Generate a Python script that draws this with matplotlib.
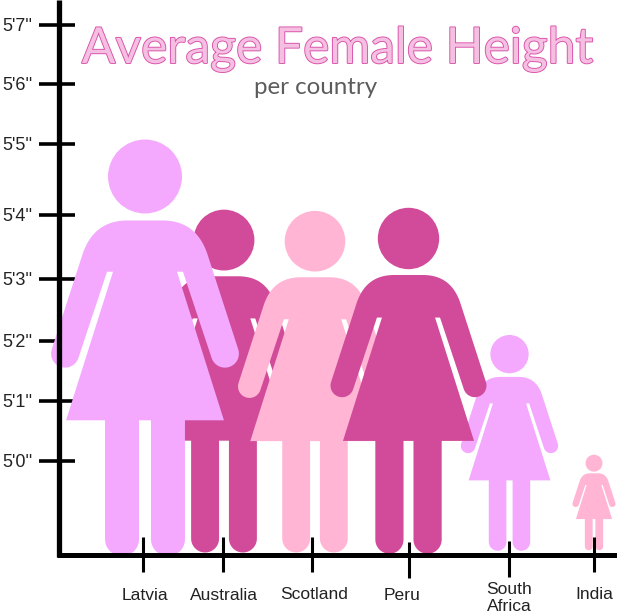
import numpy as np
import matplotlib
matplotlib.use('Agg')
import matplotlib.pyplot as plt
import matplotlib.patheffects as pe
from matplotlib.patches import Polygon, Ellipse

countries = ['Latvia', 'Australia', 'Scotland', 'Peru', 'South\nAfrica', 'India']
# top of head and bottom of feet, in inches on the y scale
top_in = [65.18, 64.05, 64.03, 64.08, 62.03, 60.10]
foot_in = [58.46, 58.52, 58.52, 58.50, 58.55, 58.56]
center_x = [145, 224, 315, 408.5, 509.5, 594]
tick_x = [143, 223, 312, 409, 509, 594]
colors = ['#f4a8fe', '#d14b9a', '#ffb5d3', '#d14b9a', '#f4a8fe', '#ffb5d3']
draw_order = [1, 2, 0, 4, 3, 5]

y_labels = ['5\'0\'\'', '5\'1\'\'', '5\'2\'\'', '5\'3\'\'', '5\'4\'\'', '5\'5\'\'', '5\'6\'\'', '5\'7\'\'']
y_ticks = [60, 60.97, 61.94, 62.94, 63.97, 65.11, 66.08, 67.03]

PX_PER_IN = 62


def to_in(px):
    return 60 + (461 - px) / PX_PER_IN


def arc(cx, cy, r, a0, a1, n=24):
    a = np.radians(np.linspace(a0, a1, n))
    return np.column_stack([cx + r * np.cos(a), cy + r * np.sin(a)])


def bezier(p0, p1, p2, p3, n=24):
    t = np.linspace(0, 1, n)[:, None]
    p0, p1, p2, p3 = map(np.array, (p0, p1, p2, p3))
    return (1-t)**3*p0 + 3*(1-t)**2*t*p1 + 3*(1-t)*t**2*p2 + t**3*p3


# right half of the body, measured on a figure 417 tall, y down from head top
def body_outline():
    right = np.vstack([
        [[0, 80.7]],
        bezier((17, 80.7), (36, 80.7), (53, 88), (62, 113)),
        arc(80, 214, 14, -18.2, 161.8),
        [[38, 132], [32, 132], [79, 280.7], [40, 280.7]],
        arc(23, 399.7, 17, 0, 180),
        [[6, 280.7], [0, 280.7]],
    ])
    left = right[::-1] * np.array([-1, 1])
    return np.vstack([right, left])


BODY = body_outline()

fig = plt.figure(figsize=(6.17, 6.13), dpi=100)
ax = fig.add_axes([0, 0, 1, 1])
ax.set_xlim(0, 617)
ax.set_ylim(to_in(613), to_in(0))
ax.axis('off')

for i in draw_order:
    scale = (top_in[i] - foot_in[i]) * PX_PER_IN / 417
    pts = BODY * scale
    xy = np.column_stack([center_x[i] + pts[:, 0], top_in[i] - pts[:, 1] / PX_PER_IN])
    ax.add_patch(Polygon(xy, closed=True, fc=colors[i], ec='none', zorder=2))
    ax.add_patch(Ellipse((center_x[i], top_in[i] - 36.7 * scale / PX_PER_IN),
                         74 * scale, 74 * scale / PX_PER_IN, fc=colors[i], ec='none', zorder=2))

# axes
ax.plot([58.5, 58.5], [to_in(0), to_in(557)], color='black', lw=3.8, solid_capstyle='butt', zorder=3)
ax.plot([57, 617], [to_in(555), to_in(555)], color='black', lw=3.6, solid_capstyle='butt', zorder=3)

ax.hlines(y_ticks, 39, 75, color='black', lw=2.6, zorder=1.5)
for val, lab in zip(y_ticks, y_labels):
    ax.text(2, val - 1.5 / PX_PER_IN, lab, ha='left', va='center', fontsize=13,
            family='Liberation Sans', color='#222222')

tick_tops = [537, 537, 537, 542, 541, 537]
tick_bots = [572, 572, 572, 578, 577, 572]
for x, t, b in zip(tick_x, tick_tops, tick_bots):
    ax.plot([x, x], [to_in(t), to_in(b)], color='black', lw=2.2, solid_capstyle='butt', zorder=4)

label_x = [145, 224, 314, 402, 509, 594]
label_y = [595, 595, 594, 595, 598, 594]
for x, y, lab in zip(label_x, label_y, countries):
    ax.text(x, to_in(y), lab, ha='center', va='center', fontsize=12.6, family='Liberation Sans',
            color='#222222', linespacing=1.15)

title = ax.text(337.5, to_in(63), 'Average Female Height', ha='center', va='baseline',
                fontsize=35.8, family='Lato', color='#f5bfe2')
title.set_path_effects([pe.Stroke(linewidth=1.3, foreground='#d94fa8'), pe.Normal()])
ax.text(315.5, to_in(87), 'per country', ha='center', va='center', fontsize=17.4, family='Lato',
        color='#5c5c5c')

fig.savefig('out.png', dpi=100)
